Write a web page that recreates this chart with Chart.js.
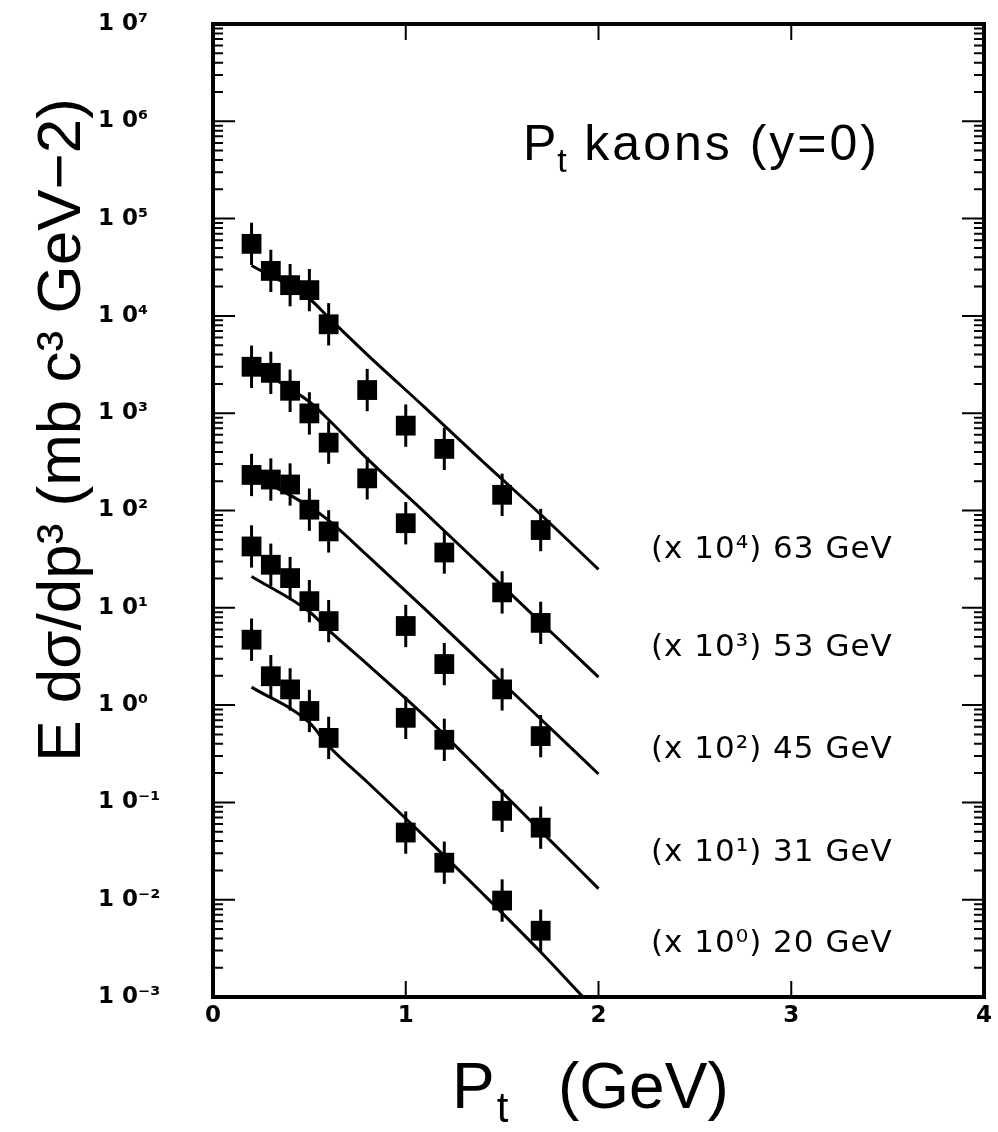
<!DOCTYPE html>
<html>
<head>
<meta charset="utf-8">
<script src="https://cdn.jsdelivr.net/npm/chart.js@4.4.1/dist/chart.umd.min.js"></script>
<style>
  html, body { margin: 0; padding: 0; background: #fff; }
  canvas { display: block; }
</style>
</head>
<body>
<canvas id="kaon-chart" width="998" height="1132"></canvas>
<script>
window.addEventListener("DOMContentLoaded", () => {

  // Pt values of the measured points (GeV)
  const ptFull = [0.2, 0.3, 0.4, 0.5, 0.6, 0.8, 1.0, 1.2, 1.5, 1.7];
  const ptShort = [0.2, 0.3, 0.4, 0.5, 0.6, 1.0, 1.2, 1.5, 1.7];

  // E dsigma/dp3, already multiplied by the factor in the labels
  const pts63 = [5.5e4, 2.9e4, 2.07e4, 1.84e4, 8.2e3, 1.73e3, 745, 430, 145, 63];
  const pts53 = [3.0e3, 2.6e3, 1.7e3, 995, 498, 214, 74, 37, 14.4, 7.0];
  const pts45 = [232, 208, 185, 102, 61, 6.5, 2.64, 1.45, 0.48];
  const pts31 = [42.7, 27.7, 20.2, 11.7, 7.3, 0.74, 0.44, 0.082, 0.055];
  const pts20 = [4.7, 1.98, 1.45, 0.87, 0.46, 0.049, 0.024, 0.0098, 0.0048];

  // model curves
  const ptCurve = [0.2, 0.5, 0.6, 0.8, 1.1, 1.4, 1.7, 2.0];
  const ptCurve20 = [0.2, 0.5, 0.6, 0.8, 1.1, 1.4, 1.7, 1.92];
  const curve63 = [3.3e4, 1.5e4, 9.6e3, 4.0e3, 1.14e3, 318, 91, 24.8];
  const curve53 = [3.1e3, 1.31e3, 857, 341, 95, 26, 7.1, 1.94];
  const curve45 = [234, 110, 79, 34.5, 9.7, 2.64, 0.72, 0.196];
  const curve31 = [21, 9.1, 5.9, 2.64, 0.77, 0.20, 0.051, 0.013];
  const curve20 = [1.53, 0.66, 0.38, 0.162, 0.044, 0.0115, 0.0029, 0.001];

  const errFactor = 1.65; // error bar half-length, multiplicative

  const yExponents = [-3, -2, -1, 0, 1, 2, 3, 4, 5, 6, 7];
  const yTickLabels = ["1 0⁻³", "1 0⁻²", "1 0⁻¹", "1 0⁰", "1 0¹", "1 0²", "1 0³", "1 0⁴", "1 0⁵", "1 0⁶", "1 0⁷"];
  const xTickLabels = ["0", "1", "2", "3", "4"];
  const seriesLabels = ["(x 10⁴) 63 GeV", "(x 10³) 53 GeV", "(x 10²) 45 GeV", "(x 10¹) 31 GeV", "(x 10⁰) 20 GeV"];

  const toXY = (xs, ys) => xs.map((x, i) => ({ x: x, y: ys[i] }));

  const pointSet = (xs, ys) => ({
    type: "scatter",
    data: toXY(xs, ys),
    errorBars: true,
    pointStyle: "rect",
    pointRadius: 14,
    pointHoverRadius: 14,
    backgroundColor: "#000",
    borderWidth: 0
  });

  const curveSet = (xs, ys) => ({
    type: "line",
    data: toXY(xs, ys),
    borderColor: "#000",
    borderWidth: 3,
    pointRadius: 0,
    cubicInterpolationMode: "monotone",
    fill: false
  });

  // vertical error sticks through each square
  const errorBarPlugin = {
    id: "errorBars",
    beforeDatasetsDraw(chart) {
      const { ctx, scales: { x, y } } = chart;
      ctx.save();
      ctx.strokeStyle = "#000";
      ctx.lineWidth = 3;
      chart.data.datasets.forEach(ds => {
        if (!ds.errorBars) return;
        ds.data.forEach(p => {
          const px = x.getPixelForValue(p.x);
          ctx.beginPath();
          ctx.moveTo(px, y.getPixelForValue(p.y * errFactor));
          ctx.lineTo(px, y.getPixelForValue(p.y / errFactor));
          ctx.stroke();
        });
      });
      ctx.restore();
    }
  };

  // closed frame with inward ticks on all sides
  const framePlugin = {
    id: "frame",
    afterDatasetsDraw(chart) {
      const { ctx, chartArea: a, scales: { x, y } } = chart;
      ctx.save();
      ctx.strokeStyle = "#000";
      ctx.lineWidth = 4;
      ctx.strokeRect(a.left, a.top, a.right - a.left, a.bottom - a.top);
      ctx.lineWidth = 2;
      ctx.beginPath();
      for (let e = -3; e < 7; e++) {
        for (let k = 1; k < 10; k++) {
          const py = y.getPixelForValue(k * Math.pow(10, e));
          const len = k === 1 ? 22 : 10;
          ctx.moveTo(a.left, py); ctx.lineTo(a.left + len, py);
          ctx.moveTo(a.right, py); ctx.lineTo(a.right - len, py);
        }
      }
      [1, 2, 3].forEach(v => {
        const px = x.getPixelForValue(v);
        ctx.moveTo(px, a.bottom); ctx.lineTo(px, a.bottom - 16);
        ctx.moveTo(px, a.top); ctx.lineTo(px, a.top + 16);
      });
      ctx.stroke();
      ctx.restore();
    }
  };

  // titles and the per-energy labels
  const textPlugin = {
    id: "texts",
    afterDraw(chart) {
      const { ctx } = chart;
      ctx.save();
      ctx.fillStyle = "#000";

      // y title
      ctx.save();
      ctx.translate(80, 430);
      ctx.rotate(-Math.PI / 2);
      ctx.font = '62px "Liberation Sans", sans-serif';
      ctx.textAlign = "center";
      ctx.textBaseline = "alphabetic";
      ctx.fillText("E dσ/dp³ (mb c³ GeV−2)", 0, 0);
      ctx.restore();

      ctx.textAlign = "left";
      ctx.textBaseline = "alphabetic";

      // x title
      const narrow = '"Liberation Sans Narrow", "Liberation Sans", sans-serif';
      ctx.font = "64px " + narrow;
      ctx.fillText("P", 452, 1108);
      const pw = ctx.measureText("P").width;
      ctx.font = "42px " + narrow;
      ctx.fillText("t", 452 + pw + 2, 1122);
      ctx.font = "64px " + narrow;
      ctx.fillText("(GeV)", 558, 1108);

      // plot title
      ctx.font = '50px "Liberation Sans", sans-serif';
      ctx.fillText("P", 523, 160);
      const tw = ctx.measureText("P").width;
      ctx.font = '34px "Liberation Sans", sans-serif';
      ctx.fillText("t", 523 + tw + 1, 172);
      ctx.font = '50px "Liberation Sans", sans-serif';
      ctx.letterSpacing = "3px";
      ctx.fillText("kaons (y=0)", 523 + tw + 28, 160);

      // series labels
      ctx.font = '31px "DejaVu Sans", sans-serif';
      ctx.letterSpacing = "1px";
      const baselines = [558, 656, 758, 861, 952];
      seriesLabels.forEach((s, i) => ctx.fillText(s, 651, baselines[i]));
      ctx.letterSpacing = "0px";
      ctx.restore();
    }
  };

  new Chart(document.getElementById("kaon-chart"), {
    data: {
      datasets: [
        pointSet(ptFull, pts63),
        pointSet(ptFull, pts53),
        pointSet(ptShort, pts45),
        pointSet(ptShort, pts31),
        pointSet(ptShort, pts20),
        curveSet(ptCurve, curve63),
        curveSet(ptCurve, curve53),
        curveSet(ptCurve, curve45),
        curveSet(ptCurve, curve31),
        curveSet(ptCurve20, curve20)
      ]
    },
    options: {
      responsive: false,
      animation: false,
      devicePixelRatio: 1,
      layout: { padding: { left: 98, top: 24, right: 7, bottom: 0 } },
      plugins: { legend: { display: false }, tooltip: { enabled: false } },
      scales: {
        x: {
          type: "linear",
          min: 0,
          max: 4,
          grid: { display: false, drawTicks: false },
          border: { display: false },
          ticks: {
            stepSize: 1,
            padding: 5,
            color: "#000",
            font: { family: "DejaVu Sans", size: 23, weight: "bold" },
            callback: v => xTickLabels[v]
          },
          afterFit: s => { s.height = 135; }
        },
        y: {
          type: "logarithmic",
          min: 1e-3,
          max: 1e7,
          grid: { display: false, drawTicks: false },
          border: { display: false },
          afterBuildTicks: s => {
            s.ticks = yExponents.map(e => ({ value: Math.pow(10, e), major: true }));
          },
          ticks: {
            autoSkip: false,
            crossAlign: "far",
            color: "#000",
            font: { family: "DejaVu Sans", size: 23, weight: "bold" },
            callback: v => yTickLabels[yExponents.indexOf(Math.round(Math.log10(v)))]
          },
          afterFit: s => { s.width = 115; }
        }
      }
    },
    plugins: [errorBarPlugin, framePlugin, textPlugin]
  });

});
</script>
</body>
</html>
